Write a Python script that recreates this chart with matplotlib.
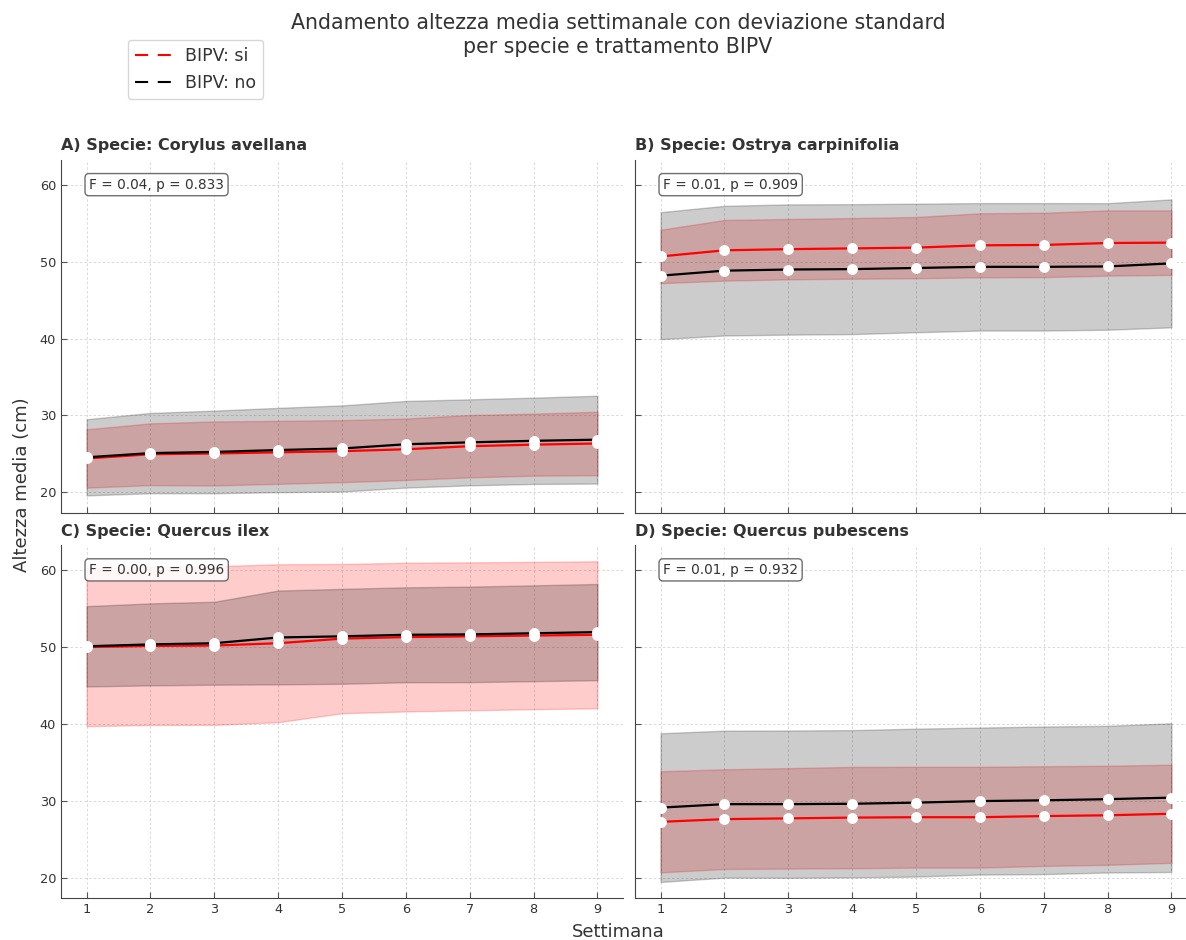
import matplotlib
matplotlib.use("Agg")
import matplotlib.pyplot as plt
from matplotlib.lines import Line2D
import numpy as np

## Settimane e specie
settimane = [1, 2, 3, 4, 5, 6, 7, 8, 9]
specie = ["Corylus avellana", "Ostrya carpinifolia", "Quercus ilex", "Quercus pubescens"]
lettere = ["A", "B", "C", "D"]
anova = ["F = 0.04, p = 0.833", "F = 0.01, p = 0.909",
         "F = 0.00, p = 0.996", "F = 0.01, p = 0.932"]

## Altezza media (cm) e deviazione standard, BIPV: si
media_si = [
    [24.4, 24.95, 25.05, 25.2, 25.35, 25.6, 26.0, 26.2, 26.35],
    [50.7, 51.5, 51.65, 51.75, 51.85, 52.15, 52.2, 52.45, 52.5],
    [50.0, 50.15, 50.2, 50.5, 51.1, 51.3, 51.4, 51.5, 51.6],
    [27.25, 27.6, 27.7, 27.8, 27.85, 27.85, 28.0, 28.1, 28.3],
]
sd_si = [
    [3.8, 4.02, 4.17, 4.1, 4.04, 4.0, 4.06, 4.04, 4.13],
    [3.48, 3.95, 3.93, 3.95, 3.99, 4.17, 4.19, 4.25, 4.2],
    [10.3, 10.3, 10.33, 10.28, 9.72, 9.68, 9.63, 9.59, 9.57],
    [6.58, 6.49, 6.54, 6.6, 6.56, 6.56, 6.49, 6.45, 6.39],
]

## BIPV: no
media_no = [
    [24.55, 25.1, 25.25, 25.5, 25.7, 26.25, 26.5, 26.7, 26.85],
    [48.2, 48.85, 49.0, 49.05, 49.2, 49.35, 49.35, 49.4, 49.8],
    [50.1, 50.35, 50.5, 51.25, 51.4, 51.6, 51.65, 51.8, 51.95],
    [29.1, 29.55, 29.55, 29.6, 29.75, 29.95, 30.05, 30.2, 30.4],
]
sd_no = [
    [4.96, 5.23, 5.38, 5.49, 5.61, 5.64, 5.6, 5.62, 5.72],
    [8.27, 8.44, 8.48, 8.46, 8.37, 8.3, 8.3, 8.24, 8.33],
    [5.23, 5.34, 5.4, 6.11, 6.18, 6.18, 6.22, 6.24, 6.27],
    [9.68, 9.57, 9.59, 9.59, 9.63, 9.57, 9.61, 9.55, 9.68],
]

plt.rcParams["font.family"] = "DejaVu Sans"
plt.rcParams["text.color"] = "#333333"
plt.rcParams["axes.labelcolor"] = "#333333"
plt.rcParams["xtick.color"] = "#333333"
plt.rcParams["ytick.color"] = "#333333"

fig, axes = plt.subplots(2, 2, figsize=(11.86, 9.4), dpi=100, sharex=True, sharey=True)
fig.subplots_adjust(left=61/1186, right=1197/1186, top=1-160/940, bottom=1-898/940,
                    wspace=12/562, hspace=32.5/353)

x = np.array(settimane)
for i, ax in enumerate(axes.flat):
    for media, sd, col in [(media_si[i], sd_si[i], "red"), (media_no[i], sd_no[i], "black")]:
        m = np.array(media)
        s = np.array(sd)
        ax.fill_between(x, m - s, m + s, color=col, alpha=0.2, linewidth=1)
        ax.plot(x, m, color=col, linewidth=1.6, zorder=3)
    # punti bianchi sopra le linee
    for media in [media_si[i], media_no[i]]:
        ax.plot(x, media, "o", color="white", markersize=6.8, zorder=4)

    ax.set_title(f"{lettere[i]}) Specie: {specie[i]}", loc="left", fontsize=11.5,
                 fontweight="bold", pad=7)
    ax.text(0.05, 0.95, anova[i], transform=ax.transAxes, fontsize=9.8, va="top",
            bbox=dict(boxstyle="round,pad=0.3", facecolor="white", edgecolor="#555555", alpha=0.85))
    ax.grid(True, linestyle=(0, (3, 2.5)), color="#d4d4d4", linewidth=0.6)
    ax.set_axisbelow(True)
    for sp in ["top", "right"]:
        ax.spines[sp].set_visible(False)
    for sp in ["left", "bottom"]:
        ax.spines[sp].set_color("#444444")
    ax.tick_params(direction="in", length=4, color="#555555", labelsize=9.3)
    ax.set_xticks(settimane)
    ax.set_yticks([20, 30, 40, 50, 60])

fig.suptitle("Andamento altezza media settimanale con deviazione standard\nper specie e trattamento BIPV",
             x=618/1186, y=0.986, va="top", fontsize=14.8, linespacing=1.25)
fig.text(618/1186, 0.009, "Settimana", ha="center", va="center", fontsize=13)
fig.text(22/1186, 1-485/940, "Altezza media (cm)", ha="center", va="center",
         rotation=90, fontsize=13)

handles = [Line2D([0], [0], color="red", linewidth=1.5, dashes=(6.3, 4.6)),
           Line2D([0], [0], color="black", linewidth=1.5, dashes=(6.3, 4.6))]
fig.legend(handles, ["BIPV: si", "BIPV: no"], loc="upper left", fontsize=12.5,
           handlelength=2.1, bbox_to_anchor=(128/1186, 1-40/940), borderaxespad=0)

fig.savefig("out.png", dpi=100)
